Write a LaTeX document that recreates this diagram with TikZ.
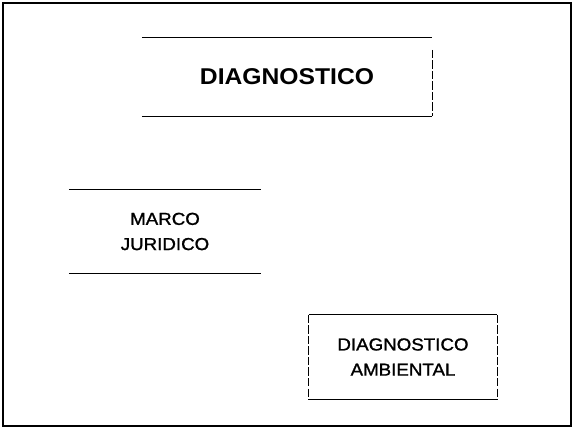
\documentclass[tikz,border=0pt]{standalone}
\usepackage{fontspec}
\usepackage{tikz}
\setmainfont{Liberation Sans}
\newfontfamily\widesans[FakeStretch=1.08]{Liberation Sans}
\newfontfamily\widelbl[FakeStretch=1.08,FakeBold=1.2]{Liberation Sans}

\begin{document}
\begin{tikzpicture}[x=0.03cm, y=-0.03cm,
    head/.style={font=\widesans\bfseries\fontsize{19.5}{22}\selectfont, inner sep=0pt},
    lbl/.style={font=\widelbl\fontsize{14.8}{21.5}\selectfont, align=center, inner sep=0pt},
    rule/.style={line width=1.1pt},
    gaprule/.style={line width=0.9pt, dash pattern=on 7pt off 2pt}]

    \useasboundingbox (0,0) rectangle (575,430);

    % frame of the slide
    \draw[line width=1.5pt] (3,3) rectangle (571,426);

    % main title
    \node[head, minimum width=8.7cm, minimum height=2.34cm] (diag) at (287,77) {DIAGNOSTICO};
    \draw[rule] (diag.north west) -- (diag.north east);
    \draw[rule] (diag.south west) -- (diag.south east);
    \draw[gaprule] ([yshift=-0.36cm]diag.north east) -- (diag.south east);

    % legal frame
    \node[lbl, minimum width=5.76cm, minimum height=2.49cm] (marco) at (165,231.5) {MARCO\\JURIDICO};
    \draw[rule] (marco.north west) -- (marco.north east);
    \draw[rule] (marco.south west) -- (marco.south east);

    % environmental diagnosis
    \node[lbl, minimum width=5.64cm, minimum height=2.52cm] (amb) at (403,357) {DIAGNOSTICO\\AMBIENTAL};
    \draw[rule] (amb.north west) -- (amb.north east);
    \draw[rule] (amb.south west) -- (amb.south east);
    \draw[gaprule] (amb.north west) -- (amb.south west);
    \draw[gaprule] (amb.north east) -- (amb.south east);
\end{tikzpicture}
\end{document}
